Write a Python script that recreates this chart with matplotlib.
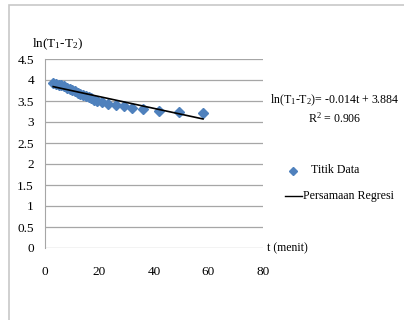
import matplotlib.pyplot as plt
from matplotlib.lines import Line2D
from matplotlib.patches import Rectangle

plt.rcParams["font.family"] = ["Liberation Serif", "DejaVu Serif"]
plt.rcParams["mathtext.fontset"] = "custom"
plt.rcParams["mathtext.rm"] = "Liberation Serif"
plt.rcParams["mathtext.it"] = "Liberation Serif:italic"

# data
t_menit = [3, 4, 5, 6, 7, 8, 9, 10, 11, 12, 13, 14, 15, 16, 17, 18, 19,
           21, 23, 26, 29, 32, 36, 42, 49, 58]
ln_dT = [3.92, 3.91, 3.89, 3.87, 3.85, 3.82, 3.79, 3.76, 3.73, 3.70, 3.67,
         3.64, 3.61, 3.59, 3.56, 3.53, 3.50, 3.47, 3.44, 3.41, 3.38, 3.34,
         3.30, 3.27, 3.23, 3.21]
slope = -0.014
intercept = 3.884
r_squared = 0.906
fit_range = [3, 58]

x_ticks = [0, 20, 40, 60, 80]
y_ticks = [0, 0.5, 1, 1.5, 2, 2.5, 3, 3.5, 4, 4.5]
grid_color = "#a6a6a6"

fig = plt.figure(figsize=(4.04, 3.2), dpi=100)
# light frame round the chart (right and bottom edges fall outside the image)
fig.patches.append(Rectangle((9 / 404, -0.2), 1.5, 1 - 5 / 320 + 0.2,
                             transform=fig.transFigure, fill=False,
                             edgecolor="#c8c8c8", linewidth=1.2))

ax = fig.add_axes([45 / 404, 72 / 320, 218 / 404, 189 / 320])
for y in y_ticks:
    ax.axhline(y, color=grid_color, linewidth=0.9, zorder=0)

ax.plot(t_menit, ln_dT, linestyle="none", marker="D", markersize=5.5,
        color="#4f81bd", zorder=3)
fit_y = [slope * t + intercept for t in fit_range]
ax.plot(fit_range, fit_y, color="black", linewidth=1.2, zorder=4)

ax.set_xlim(0, 80)
ax.set_ylim(0, 4.5)
ax.set_xticks(x_ticks)
ax.set_yticks(y_ticks)
ax.set_yticklabels([f"{v:g}" for v in y_ticks])
ax.tick_params(axis="x", length=0, pad=13, labelsize=9.5)
ax.tick_params(axis="y", length=0, pad=8, labelsize=9.5)
for side in ["top", "right", "bottom"]:
    ax.spines[side].set_visible(False)
ax.spines["left"].set_color(grid_color)

fig.text(32 / 404, 1 - 44 / 320, r"ln(T$_1$-T$_2$)", fontsize=9.5, va="center")
fig.text(267 / 404, 1 - 248 / 320, "t (menit)", fontsize=8.5, va="center")
fig.text(335 / 404, 1 - 100 / 320, r"ln(T$_1$-T$_2$)= -0.014t + 3.884",
         fontsize=8.6, ha="center", va="center")
fig.text(335 / 404, 1 - 118 / 320, f"R$^2$ = {r_squared}", fontsize=8.6,
         ha="center", va="center")

fig.lines.append(Line2D([293 / 404], [1 - 171 / 320], marker="D", markersize=4.5,
                        color="#4f81bd", transform=fig.transFigure))
fig.text(311 / 404, 1 - 170 / 320, "Titik Data", fontsize=8.6, va="center")
fig.lines.append(Line2D([285 / 404, 302 / 404], [1 - 196 / 320, 1 - 196 / 320],
                        color="black", linewidth=1.0, transform=fig.transFigure))
fig.text(303 / 404, 1 - 196 / 320, "Persamaan Regresi", fontsize=8.6, va="center")

fig.savefig("out.png", dpi=100)
